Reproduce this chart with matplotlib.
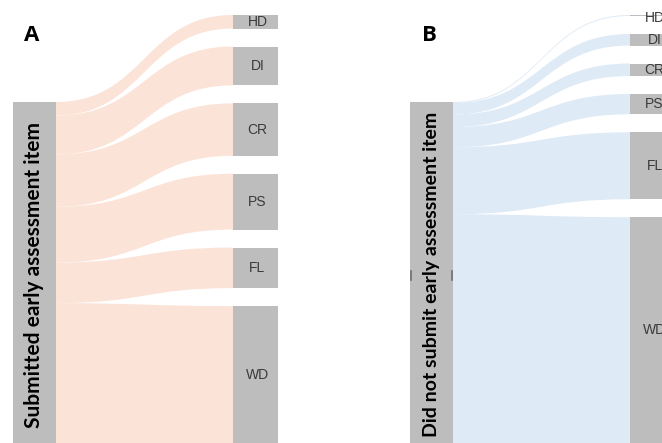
import matplotlib.pyplot as plt
from matplotlib.path import Path
from matplotlib.patches import PathPatch, Rectangle

# share of students (%) in each final grade
categories = ['HD', 'DI', 'CR', 'PS', 'FL', 'WD']
submitted = [4.0, 11.5, 15.5, 16.5, 12.0, 40.5]
not_submitted = [0.3, 3.4, 3.7, 6.0, 19.8, 66.8]
source_labels = ['Submitted early assessment item', 'Did not submit early assessment item']
panel_labels = ['A', 'B']
flow_colors = ['#fce3d8', '#deeaf6']

W, H = 662, 443
fig = plt.figure(figsize=(W / 100, H / 100), dpi=100)
ax = fig.add_axes([0, 0, 1, 1])
ax.set_xlim(0, W)
ax.set_ylim(H, 0)
ax.axis('off')

k = 3.38          # px per percent
gap = 18
bar_grey = '#bdbdbd'
pad = 30          # original figure is cropped at the bottom


def draw_panel(x_off, values, src_label, panel_label, color, src_size):
    xl0, xl1 = x_off + 13, x_off + 56
    xr0, xr1 = x_off + 233, x_off + 278
    xm = (xl1 + xr0) / 2
    left_top = 102
    right_top = 15

    ly = left_top
    ry = right_top
    for i, (cat, v) in enumerate(zip(categories, values)):
        h = v * k
        hb = h + (pad if i == len(values) - 1 else 0)
        verts = [(xl1, ly), (xm, ly), (xm, ry), (xr0, ry),
                 (xr0, ry + hb), (xm, ry + hb), (xm, ly + hb), (xl1, ly + hb),
                 (xl1, ly)]
        codes = [Path.MOVETO, Path.CURVE4, Path.CURVE4, Path.CURVE4,
                 Path.LINETO, Path.CURVE4, Path.CURVE4, Path.CURVE4,
                 Path.CLOSEPOLY]
        ax.add_patch(PathPatch(Path(verts, codes), fc=color, ec='none', lw=0))
        ax.add_patch(Rectangle((xr0, ry), xr1 - xr0, hb, fc=bar_grey, ec='none'))
        ax.text((xr0 + xr1) / 2 + 2, ry + max(h, 6) / 2, cat, ha='center', va='center',
                fontsize=10, color='#3a3a3a', family='Liberation Sans')
        ly += h
        ry += h + gap

    ax.add_patch(Rectangle((xl0, left_top), xl1 - xl0, ly - left_top + pad,
                           fc=bar_grey, ec='none'))
    ax.text((xl0 + xl1) / 2, (left_top + H) / 2 + 2, src_label, rotation=90,
            ha='center', va='center', fontsize=src_size, fontweight='bold',
            family='Lato', color='black')
    ax.text(x_off + 32, 35, panel_label, ha='center', va='center', fontsize=16,
            fontweight='bold', family='Open Sans', color='black')
    return xl0, xl1


draw_panel(0, submitted, source_labels[0], panel_labels[0], flow_colors[0], 15)
bl0, bl1 = draw_panel(397, not_submitted, source_labels[1], panel_labels[1], flow_colors[1], 14)

# small tick marks on the side of the B source bar
for xt in (bl0 + 1, bl1 - 1):
    ax.plot([xt, xt], [271, 280], color='#707070', lw=1.2)

fig.savefig('out.png', dpi=100)
